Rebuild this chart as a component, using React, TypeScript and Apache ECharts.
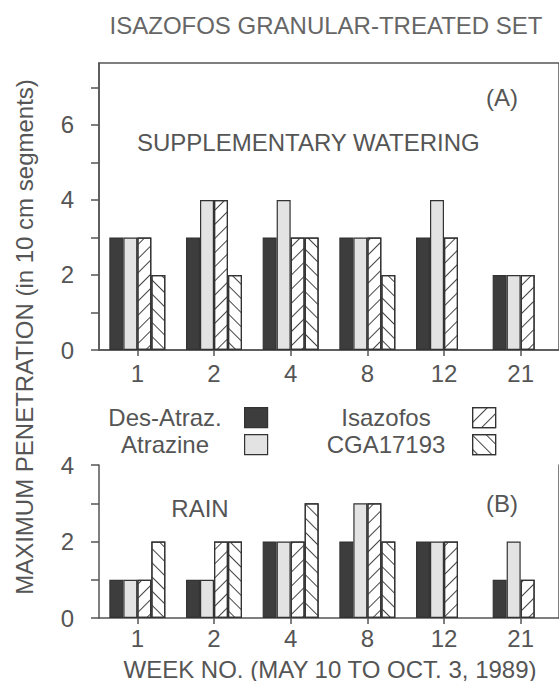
import React, { useEffect, useRef } from 'react';
import * as echarts from 'echarts';

const weeks = ['1', '2', '4', '8', '12', '21'];
const seriesNames = ['Des-Atraz.', 'Atrazine', 'Isazofos', 'CGA17193'];

// (A) Supplementary watering
const wateringDesAtraz = [3, 3, 3, 3, 3, 2];
const wateringAtrazine = [3, 4, 4, 3, 4, 2];
const wateringIsazofos = [3, 4, 3, 3, 3, 2];
const wateringCGA = [2, 2, 3, 2, null, null];

// (B) Rain
const rainDesAtraz = [1, 1, 2, 2, 2, 1];
const rainAtrazine = [1, 1, 2, 3, 2, 2];
const rainIsazofos = [1, 2, 2, 3, 2, 1];
const rainCGA = [2, 2, 3, 2, null, null];

const topTicks = [0, 1, 2, 3, 4, 5, 6, 7];
const topLabels = [0, 2, 4, 6];
const bottomTicks = [0, 1, 2, 3, 4];
const bottomLabels = [0, 2, 4];

const FONT = '"Liberation Sans", Arial, Helvetica, sans-serif';
const INK = '#555';
const EDGE = '#333';

const hatch = (rotation: number) => ({
  symbol: 'rect',
  symbolSize: 1,
  dashArrayX: [1, 0],
  dashArrayY: [1, 8.5],
  rotation,
  color: '#444',
});

const itemStyles: any[] = [
  { color: '#3d3d3d', borderColor: EDGE, borderWidth: 1.2 },
  { color: '#e3e3e3', borderColor: EDGE, borderWidth: 1.2 },
  { color: '#ffffff', borderColor: EDGE, borderWidth: 1.2, decal: hatch(-Math.PI / 4) },
  { color: '#ffffff', borderColor: EDGE, borderWidth: 1.2, decal: hatch(Math.PI / 4) },
];

export default function App() {
  const ref = useRef<HTMLDivElement>(null);

  useEffect(() => {
    if (!ref.current) return;
    const chart = echarts.init(ref.current, null, { renderer: 'svg' });

    const topData = [wateringDesAtraz, wateringAtrazine, wateringIsazofos, wateringCGA];
    const bottomData = [rainDesAtraz, rainAtrazine, rainIsazofos, rainCGA];

    const mkSeries = (data: (number | null)[][], idx: number) =>
      data.map((d, i) => ({
        type: 'bar',
        name: seriesNames[i],
        xAxisIndex: idx,
        yAxisIndex: idx,
        data: d.map((v) => (v === null ? '-' : v)),
        barWidth: 14,
        barGap: '0%',
        itemStyle: itemStyles[i],
        emphasis: { disabled: true },
      }));

    const xAxisBase = (gridIndex: number, margin: number) => ({
      type: 'category',
      gridIndex,
      data: weeks,
      axisLine: { show: true, lineStyle: { color: INK, width: 1.5 } },
      axisTick: { show: true, alignWithLabel: true, length: 6, lineStyle: { color: INK, width: 1.5 } },
      axisLabel: { margin, fontSize: 24, color: INK, fontFamily: FONT },
      splitLine: { show: false },
    });

    const legendPos = [
      { name: seriesNames[0], left: 244, top: 407 },
      { name: seriesNames[1], left: 244, top: 434 },
      { name: seriesNames[2], left: 472, top: 407 },
      { name: seriesNames[3], left: 472, top: 434 },
    ];

    const labelText = (text: string, x: number, y: number, extra: any = {}) => ({
      type: 'text',
      x,
      y,
      style: {
        text,
        fontSize: 24,
        fontFamily: FONT,
        fill: INK,
        textAlign: 'center',
        textVerticalAlign: 'middle',
        ...extra,
      },
    });

    chart.setOption({
      animation: false,
      backgroundColor: '#ffffff',
      grid: [
        { left: 99, top: 63, width: 460, height: 287, show: true, borderColor: INK, borderWidth: 1.5, backgroundColor: 'transparent' },
        { left: 99, top: 465, width: 460, height: 153 },
      ],
      xAxis: [xAxisBase(0, 11), xAxisBase(1, 8)],
      yAxis: [
        {
          type: 'value',
          gridIndex: 0,
          min: 0,
          max: 7.65,
          interval: 1,
          axisLine: { show: true, lineStyle: { color: INK, width: 1.5 } },
          axisTick: { show: true, length: 8, customValues: topTicks, lineStyle: { color: INK, width: 1.5 } },
          axisLabel: { customValues: topLabels, margin: 25, fontSize: 24, color: INK, fontFamily: FONT },
          splitLine: { show: false },
        },
        {
          type: 'value',
          gridIndex: 1,
          min: 0,
          max: 4,
          interval: 1,
          axisLine: { show: true, lineStyle: { color: INK, width: 1.5 } },
          axisTick: { show: true, length: 8, customValues: bottomTicks, lineStyle: { color: INK, width: 1.5 } },
          axisLabel: { customValues: bottomLabels, margin: 25, fontSize: 24, color: INK, fontFamily: FONT },
          splitLine: { show: false },
        },
        {
          type: 'value',
          gridIndex: 1,
          position: 'right',
          min: 0,
          max: 4,
          axisLine: { show: true, lineStyle: { color: INK, width: 1.5 } },
          axisTick: { show: false },
          axisLabel: { show: false },
          splitLine: { show: false },
        },
      ],
      legend: legendPos.map((l) => ({
        data: [l.name],
        left: l.left,
        top: l.top,
        padding: 0,
        itemGap: 0,
        icon: 'rect',
        itemWidth: 23,
        itemHeight: 20,
        selectedMode: false,
        formatter: () => '',
        itemStyle: { borderColor: EDGE, borderWidth: 1.2 },
        textStyle: { fontSize: 1 },
      })),
      series: [...mkSeries(topData, 0), ...mkSeries(bottomData, 1)],
      graphic: [
        labelText('ISAZOFOS GRANULAR-TREATED SET', 326, 25, { fill: '#666' }),
        labelText('MAXIMUM PENETRATION (in 10 cm segments)', 0, 0),
        labelText('SUPPLEMENTARY WATERING', 137, 142, { textAlign: 'left' }),
        labelText('(A)', 502, 97),
        labelText('RAIN', 200, 508),
        labelText('(B)', 502, 503),
        labelText('Des-Atraz.', 165, 417),
        labelText('Atrazine', 165, 444),
        labelText('Isazofos', 386, 417),
        labelText('CGA17193', 386, 444),
        labelText('WEEK NO. (MAY 10 TO OCT. 3, 1989)', 330, 669),
      ].map((g, i) =>
        i === 1 ? { ...g, x: 24, y: 337, rotation: Math.PI / 2 } : g
      ),
    });

    return () => chart.dispose();
  }, []);

  return (
    <div
      ref={ref}
      style={{ position: 'fixed', left: 0, top: 0, width: 559, height: 681, background: '#fff' }}
    />
  );
}
